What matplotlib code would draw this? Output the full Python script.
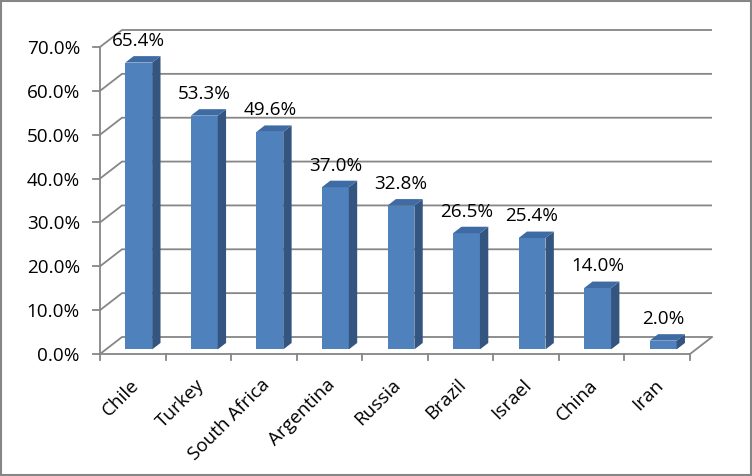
import matplotlib
matplotlib.use('Agg')
import matplotlib.pyplot as plt
from matplotlib.patches import Polygon, Rectangle

countries = ["Chile", "Turkey", "South Africa", "Argentina", "Russia",
             "Brazil", "Israel", "China", "Iran"]
values = [65.4, 53.3, 49.6, 37.0, 32.8, 26.5, 25.4, 14.0, 2.0]
yticks = [0, 10, 20, 30, 40, 50, 60, 70]
ytick_labels = [f"{v:.1f}%" for v in yticks]

plt.rcParams['font.family'] = ['Open Sans', 'DejaVu Sans']
FS = 13.6

W, H = 752, 476
fig = plt.figure(figsize=(W / 100, H / 100), dpi=100)
ax = fig.add_axes([0, 0, 1, 1])
X0, Y0 = 100, 354
PX_X = 590 / 9
PX_Y = 307 / 70
ax.set_xlim(-X0 / PX_X, (W - X0) / PX_X)
ax.set_ylim(-(H - Y0) / PX_Y, Y0 / PX_Y)
ax.axis('off')

DX = 22 / PX_X
DY = 17 / PX_Y
n = len(countries)
GRID = '#868686'
LW = 1.3

# walls / gridlines
for v in yticks:
    ax.plot([0, DX, n + DX], [v, v + DY, v + DY], color=GRID, lw=LW, zorder=1,
            solid_capstyle='butt')
ax.plot([0, 0], [0, 70], color=GRID, lw=LW, zorder=1)
ax.plot([0, n], [0, 0], color=GRID, lw=LW, zorder=1)
ax.plot([n, n + DX], [0, DY], color=GRID, lw=LW, zorder=1)
# ticks
for v in yticks:
    ax.plot([-7 / PX_X, 0], [v, v], color=GRID, lw=LW, zorder=1)
for i in range(n + 1):
    ax.plot([i, i], [0, -6 / PX_Y], color=GRID, lw=LW, zorder=1)

for v, lab in zip(yticks, ytick_labels):
    ax.text(-20 / PX_X, v, lab, ha='right', va='center_baseline', fontsize=FS,
            color='black')

# bars
f = 0.27
bw = 0.41
bd = 0.38
FRONT, TOP, SIDE = '#4F81BD', '#3E6BA3', '#34557F'
centers = [i + 0.5 + f * DX for i in range(n)]
yb = f * DY
ax.bar(centers, values, width=bw, bottom=yb, color=FRONT, zorder=3,
       linewidth=0)
for c, v in zip(centers, values):
    xl, xr = c - bw / 2, c + bw / 2
    ox, oy = bd * DX, bd * DY
    side = Polygon([(xr, yb), (xr + ox, yb + oy), (xr + ox, yb + v + oy),
                    (xr, yb + v)], closed=True, fc=SIDE, ec='none', zorder=3)
    top = Polygon([(xl, yb + v), (xr, yb + v), (xr + ox, yb + v + oy),
                   (xl + ox, yb + v + oy)], closed=True, fc=TOP, ec='none',
                  zorder=3)
    ax.add_patch(side)
    ax.add_patch(top)
    ax.text(c, yb + v + oy + 2.3, f"{v:.1f}%", ha='center', va='baseline',
            fontsize=FS, color='black', zorder=4)

for i, lab in enumerate(countries):
    ax.text(i + 0.45, -5.0, lab, rotation=45, ha='right', va='top',
            rotation_mode='anchor', fontsize=FS, color='black')

fig.add_artist(Rectangle((1 / W, 1 / H), (W - 2) / W, (H - 2) / H,
                         transform=fig.transFigure, fill=False, ec=GRID,
                         lw=1.5))

fig.savefig('out.png', dpi=100)
